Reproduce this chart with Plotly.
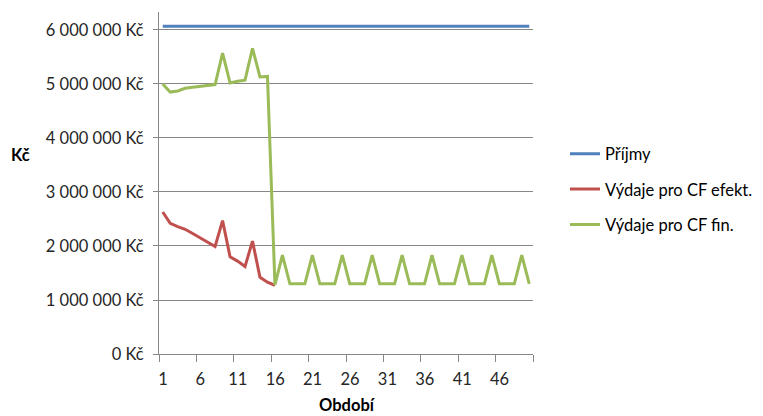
import plotly.graph_objects as go

# Periods 1..50
obdobi = list(range(1, 51))

# Income per period (Kč)
prijmy = [
    6070000, 6070000, 6070000, 6070000, 6070000, 6070000, 6070000, 6070000, 6070000, 6070000,
    6070000, 6070000, 6070000, 6070000, 6070000, 6070000, 6070000, 6070000, 6070000, 6070000,
    6070000, 6070000, 6070000, 6070000, 6070000, 6070000, 6070000, 6070000, 6070000, 6070000,
    6070000, 6070000, 6070000, 6070000, 6070000, 6070000, 6070000, 6070000, 6070000, 6070000,
    6070000, 6070000, 6070000, 6070000, 6070000, 6070000, 6070000, 6070000, 6070000, 6070000,
]

# Expenses for effective CF (only the first 16 periods)
vydaje_efekt = [
    2630000, 2420000, 2360000, 2310000, 2230000, 2150000, 2070000, 1990000, 2470000, 1800000,
    1720000, 1620000, 2090000, 1420000, 1330000, 1270000,
] + [None] * 34

# Expenses for financial CF
vydaje_fin = [
    5000000, 4850000, 4870000, 4920000, 4940000, 4960000, 4970000, 4990000, 5570000, 5020000,
    5050000, 5070000, 5660000, 5130000, 5140000, 1280000, 1830000, 1300000, 1300000, 1300000,
    1830000, 1300000, 1300000, 1300000, 1830000, 1300000, 1300000, 1300000, 1830000, 1300000,
    1300000, 1300000, 1830000, 1300000, 1300000, 1300000, 1830000, 1300000, 1300000, 1300000,
    1830000, 1300000, 1300000, 1300000, 1830000, 1300000, 1300000, 1300000, 1830000, 1300000,
]

y_tickvals = [0, 1000000, 2000000, 3000000, 4000000, 5000000, 6000000]
y_ticktext = ["0 Kč", "1 000 000 Kč", "2 000 000 Kč", "3 000 000 Kč",
              "4 000 000 Kč", "5 000 000 Kč", "6 000 000 Kč"]

# Tick marks sit between categories; labels are shifted onto category centres
x_tickvals = [0.5, 5.5, 10.5, 15.5, 20.5, 25.5, 30.5, 35.5, 40.5, 45.5, 50.5]
x_ticktext = ["1", "6", "11", "16", "21", "26", "31", "36", "41", "46", ""]

FONT = "Lato"
FS = 16.5
GRID = "#868686"

fig = go.Figure()
series = [
    ("Příjmy", prijmy, "#4F81BD"),
    ("Výdaje pro CF efekt.", vydaje_efekt, "#C0504D"),
    ("Výdaje pro CF fin.", vydaje_fin, "#9BBB59"),
]
for name, vals, color in series:
    fig.add_trace(go.Scatter(
        x=obdobi, y=vals, name=name, mode="lines",
        line=dict(color=color, width=3), legendgroup=name,
        connectgaps=False, cliponaxis=False,
    ))

fig.update_layout(
    width=763, height=416,
    margin=dict(l=159, r=230, t=12, b=62),
    paper_bgcolor="white", plot_bgcolor="white",
    font=dict(family=FONT, size=FS, color="#000000"),
    showlegend=True,
    legend=dict(
        xref="container", yref="container",
        x=0.7405, y=0.672, xanchor="left", yanchor="top",
        font=dict(family=FONT, size=FS, color="#000000"),
        tracegroupgap=11, itemwidth=30,
        bgcolor="rgba(0,0,0,0)",
    ),
    xaxis=dict(
        range=[0.5, 50.5], tickmode="array", tickvals=x_tickvals, ticktext=x_ticktext,
        ticks="outside", ticklen=7, tickcolor=GRID, tickwidth=1,
        showline=True, linecolor=GRID, linewidth=1,
        showgrid=False, zeroline=False,
        ticklabelshift=4, ticklabelstandoff=3,
        tickfont=dict(family=FONT, size=FS, color="#262626"),
    ),
    yaxis=dict(
        range=[0, 6333000], tickmode="array", tickvals=y_tickvals, ticktext=y_ticktext,
        ticks="outside", ticklen=5, tickcolor=GRID, tickwidth=1,
        showline=True, linecolor=GRID, linewidth=1,
        showgrid=True, gridcolor=GRID, gridwidth=1, zeroline=False,
        ticklabelstandoff=6,
        tickfont=dict(family=FONT, size=FS, color="#262626"),
    ),
    annotations=[
        dict(text="<b>Kč</b>", xref="paper", yref="paper", x=-0.370, y=0.582,
             xanchor="center", yanchor="middle", showarrow=False,
             font=dict(family=FONT, size=FS, color="#000000")),
        dict(text="<b>Období</b>", xref="paper", yref="paper", x=0.503, y=-0.150,
             xanchor="center", yanchor="middle", showarrow=False,
             font=dict(family=FONT, size=FS, color="#000000")),
    ],
)

fig.write_html("out.html")
